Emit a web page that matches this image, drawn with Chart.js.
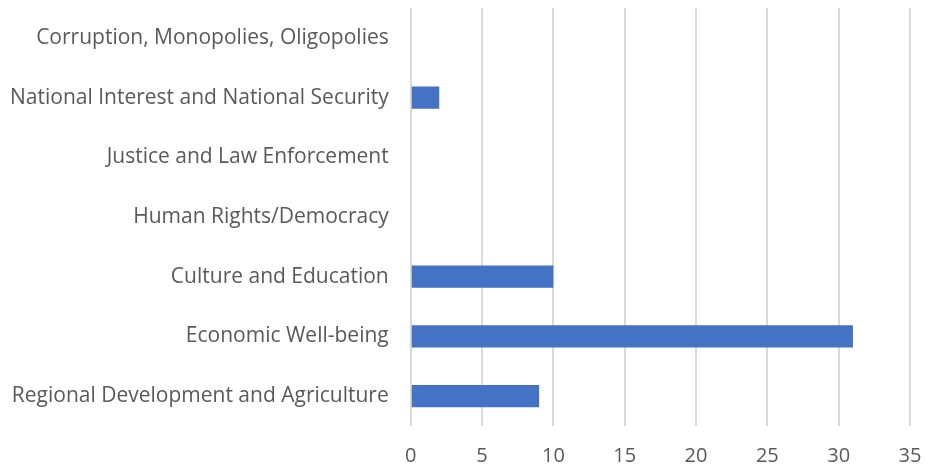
<!DOCTYPE html>
<html>
<head>
<meta charset="utf-8">
<script src="https://cdn.jsdelivr.net/npm/chart.js@4/dist/chart.umd.min.js"></script>
<style>
  html, body { margin: 0; padding: 0; background: #fff; }
  #wrap { width: 925px; height: 469px; }
</style>
</head>
<body>
<div id="wrap"><canvas id="myChart" width="925" height="469"></canvas></div>
<script>
// categories, top to bottom as in the picture
const categories = [
  "Corruption, Monopolies, Oligopolies",
  "National Interest and National Security",
  "Justice and Law Enforcement",
  "Human Rights/Democracy",
  "Culture and Education",
  "Economic Well-being",
  "Regional Development and Agriculture",
];
const counts = [0, 2, 0, 0, 10, 31, 9];
const xTicks = [0, 5, 10, 15, 20, 25, 30, 35];

const chartContext = document.getElementById("myChart").getContext("2d");

const chart = new Chart(chartContext, {
  type: "bar",
  data: {
    labels: categories,
    datasets: [
      {
        data: counts,
        backgroundColor: "#4472C4",
        barPercentage: 0.62,
        categoryPercentage: 0.6,
      },
    ],
  },
  options: {
    indexAxis: "y",
    responsive: false,
    animation: false,
    layout: { padding: { top: 8, right: 0, bottom: 0, left: 0 } },
    plugins: {
      legend: { display: false },
      tooltip: { enabled: false },
    },
    scales: {
      x: {
        min: 0,
        max: 35,
        afterBuildTicks: (axis) => {
          axis.ticks = xTicks.map((v) => ({ value: v }));
        },
        // keep the plot edges where the reference has them
        afterFit: (axis) => {
          axis.paddingRight = 15;
          axis.paddingLeft = 0;
          axis.height -= 17;
        },
        grid: { color: "#d9d9d9", lineWidth: 2, drawTicks: false },
        border: { display: false },
        ticks: {
          color: "#595959",
          padding: 18,
          font: { family: "Open Sans", size: 20 },
        },
      },
      y: {
        afterFit: (axis) => {
          axis.paddingTop = 0;
          axis.paddingBottom = 0;
          axis.width -= 12;
        },
        grid: { display: false, drawTicks: false },
        border: { display: false },
        ticks: {
          color: "#595959",
          padding: 22,
          font: { family: "Open Sans", size: 21 },
        },
      },
    },
  },
});
</script>
</body>
</html>
